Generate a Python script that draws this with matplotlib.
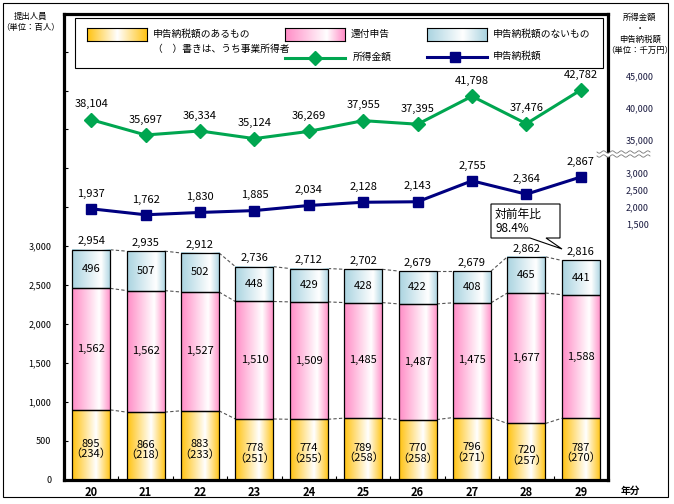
import numpy as np
import matplotlib
matplotlib.use('Agg')
import matplotlib.pyplot as plt
from matplotlib.transforms import Affine2D
from matplotlib.patches import Rectangle, Polygon
from matplotlib.lines import Line2D
from matplotlib.colors import to_rgb
from matplotlib.ticker import FixedLocator

plt.rcParams['font.family'] = ['Noto Sans CJK JP', 'DejaVu Sans']

# data (単位: 百人 / 千万円)
years = ['20', '21', '22', '23', '24', '25', '26', '27', '28', '29']
tax_yes = [895, 866, 883, 778, 774, 789, 770, 796, 720, 787]
tax_yes_biz = [234, 218, 233, 251, 255, 258, 258, 271, 257, 270]
refund = [1562, 1562, 1527, 1510, 1509, 1485, 1487, 1475, 1677, 1588]
tax_no = [496, 507, 502, 448, 429, 428, 422, 408, 465, 441]
total = [2954, 2935, 2912, 2736, 2712, 2702, 2679, 2679, 2862, 2816]
income = [38104, 35697, 36334, 35124, 36269, 37955, 37395, 41798, 37476, 42782]
tax_amt = [1937, 1762, 1830, 1885, 2034, 2128, 2143, 2755, 2364, 2867]

W, H = 674, 504
fig = plt.figure(figsize=(W / 100, H / 100), dpi=100)
# pixel coords, origin top-left
pxT = Affine2D().scale(1 / W, -1 / H).translate(0, 1) + fig.transFigure

ax = fig.add_axes([64 / W, (H - 479.5) / H, 544 / W, 465 / H])
ax_inc = ax.twinx()
ax_tax = ax.twinx()

ORANGE = '#FFC20E'
PINK = '#FF8CC6'
BLUE = '#A9D3E0'
GREEN = '#00A650'
NAVY = '#000080'


def grad(c, peak):
    c = np.array(to_rgb(c))
    t = np.linspace(0, 1, 200)
    a = np.where(t < peak, t / peak, (1 - t) / (1 - peak))
    return (c[None, :] * (1 - a[:, None]) + a[:, None])[None, :, :]


x = np.arange(len(years))
w = 0.7
lv1 = np.array(tax_yes)
lv2 = lv1 + np.array(refund)
lv3 = lv2 + np.array(tax_no)

for vals, bot, col, pk in [(tax_yes, 0, ORANGE, 0.62), (refund, lv1, PINK, 0.7), (tax_no, lv2, BLUE, 0.75)]:
    bars = ax.bar(x, vals, w, bottom=bot, facecolor='none', edgecolor='black', lw=0.9, zorder=3)
    g = grad(col, pk)
    for b in bars:
        ax.imshow(g, extent=(b.get_x(), b.get_x() + b.get_width(), b.get_y(), b.get_y() + b.get_height()),
                  aspect='auto', zorder=2, interpolation='bilinear')

# dashed connectors
for lv in (lv1, lv2, lv3):
    for i in range(len(x) - 1):
        ax.plot([x[i] + w / 2, x[i + 1] - w / 2], [lv[i], lv[i + 1]], color='#555555', lw=0.8,
                ls=(0, (3, 2)), zorder=1)

fs = 8
for i in range(len(x)):
    ax.annotate(f'{total[i]:,}', (x[i], lv3[i]), xytext=(0, 6), textcoords='offset points',
                ha='center', va='center', fontsize=fs)
    ax.text(x[i], (lv2[i] + lv3[i]) / 2, f'{tax_no[i]:,}', ha='center', va='center', fontsize=fs, zorder=4)
    ax.text(x[i], (lv1[i] + lv2[i]) / 2, f'{refund[i]:,}', ha='center', va='center', fontsize=fs, zorder=4)
    ax.annotate(f'{tax_yes[i]:,}\n（{tax_yes_biz[i]}）', (x[i], lv1[i] / 2), xytext=(0, -3),
                textcoords='offset points', ha='center', va='center', fontsize=fs,
                linespacing=1.0, zorder=4)

ax.set_xlim(-0.5, 9.5)
ax.set_ylim(0, 5977)
ax.set_xticks(x)
ax.set_xticklabels(years, fontsize=8, fontweight='bold')
ax.xaxis.set_minor_locator(FixedLocator(x[:-1] + 0.5))
ax.tick_params(axis='x', which='major', length=0, pad=5)
ax.tick_params(axis='x', which='minor', direction='in', length=3, width=0.8)
ax.set_yticks(np.arange(0, 3001, 500))
ax.set_yticklabels([f'{v:,}' for v in range(0, 3001, 500)], fontsize=6.5)
ax.yaxis.set_minor_locator(FixedLocator(np.arange(3500, 5501, 500)))
ax.tick_params(axis='y', which='both', direction='in', length=3, width=0.8, pad=9)
for s in ax.spines.values():
    s.set_linewidth(2.3)

# lines
ax_inc.plot(x, income, color=GREEN, lw=2.2, marker='D', ms=7, zorder=5)
ax_tax.plot(x, tax_amt, color=NAVY, lw=2.2, marker='s', ms=6.5, zorder=5)
for i in range(len(x)):
    ax_inc.annotate(f'{income[i]:,}', (x[i], income[i]), xytext=(0, 11), textcoords='offset points',
                    ha='center', va='center', fontsize=8)
    ax_tax.annotate(f'{tax_amt[i]:,}', (x[i], tax_amt[i]), xytext=(0, 11), textcoords='offset points',
                    ha='center', va='center', fontsize=8)

ax_inc.set_ylim(-18557, 54672)
ax_tax.set_ylim(-5978, 7618)
ax_inc.set_yticks([35000, 40000, 45000])
ax_inc.set_yticklabels(['35,000', '40,000', '45,000'], fontsize=6.5, color='#1a1a40')
ax_tax.set_yticks([1500, 2000, 2500, 3000])
ax_tax.set_yticklabels(['1,500', '2,000', '2,500', '3,000'], fontsize=6.5, color='#1a1a40')
for a in (ax_inc, ax_tax):
    a.tick_params(axis='y', length=0, pad=13)
    for s in a.spines.values():
        s.set_visible(False)

# axis break on right axis
xs = np.linspace(597, 650, 60)
wave = 1.2 * np.sin((xs - 597) / 53 * 2 * np.pi * 6)
fig.patches.append(Polygon(np.column_stack([np.r_[xs, xs[::-1]], np.r_[152 + wave, (156 + wave)[::-1]]]),
                           closed=True, facecolor='white', edgecolor='none', transform=pxT, zorder=10))
for y0 in (152, 156):
    fig.lines.append(Line2D(xs, y0 + wave, color='#777777', lw=0.6, transform=pxT, zorder=11))

# outer border
fig.patches.append(Rectangle((3, 3), 665, 494, fill=False, edgecolor='black', lw=0.8, transform=pxT, zorder=1))

# axis captions
fig.text(31, 22, '提出人員\n（単位：百人）', transform=pxT, ha='center', va='center', fontsize=6,
         linespacing=1.3)
fig.text(640, 34, '所得金額\n・\n申告納税額\n（単位：千万円）', transform=pxT, ha='center', va='center',
         fontsize=6, linespacing=1.3)
fig.text(630, 491, '年分', transform=pxT, ha='center', va='center', fontsize=7, fontweight='bold')

# legend
fig.patches.append(Rectangle((75, 18), 528, 50, facecolor='white', edgecolor='black', lw=0.8,
                             transform=pxT, zorder=3))
for (x0, col, pk, label) in [(87, ORANGE, 0.5, '申告納税額のあるもの'), (285, PINK, 0.7, '還付申告'),
                             (427, BLUE, 0.6, '申告納税額のないもの')]:
    sw = fig.add_axes([x0 / W, (H - 41) / H, 60 / W, 13 / H], zorder=4)
    sw.imshow(grad(col, pk), aspect='auto', extent=(0, 1, 0, 1), interpolation='bilinear')
    sw.set_xticks([])
    sw.set_yticks([])
    for s in sw.spines.values():
        s.set_linewidth(0.8)
    fig.text(x0 + 66, 34, label, transform=pxT, ha='left', va='center', fontsize=7, zorder=5)
fig.text(153, 49, '（　）書きは、うち事業所得者', transform=pxT, ha='left', va='center', fontsize=7, zorder=5)
fig.lines.append(Line2D([285, 345], [58, 58], color=GREEN, lw=2.2, marker=None, transform=pxT, zorder=5))
fig.lines.append(Line2D([315], [58], color=GREEN, marker='D', ms=7, transform=pxT, zorder=6))
fig.text(353, 57, '所得金額', transform=pxT, ha='left', va='center', fontsize=7, zorder=5)
fig.lines.append(Line2D([427, 487], [57, 57], color=NAVY, lw=2.2, transform=pxT, zorder=5))
fig.lines.append(Line2D([455], [57], color=NAVY, marker='s', ms=6.5, transform=pxT, zorder=6))
fig.text(493, 56, '申告納税額', transform=pxT, ha='left', va='center', fontsize=7, zorder=5)

# callout
fig.patches.append(Polygon([(491, 204), (560, 204), (560, 238), (546, 238), (562, 249), (530, 238),
                            (491, 238)], closed=True, facecolor='white', edgecolor='black', lw=0.8,
                           transform=pxT, zorder=6))
fig.text(495, 214, '対前年比', transform=pxT, ha='left', va='center', fontsize=8.5, zorder=7)
fig.text(495, 228, '98.4%', transform=pxT, ha='left', va='center', fontsize=8.5, zorder=7)

fig.savefig('out.png', dpi=100)
